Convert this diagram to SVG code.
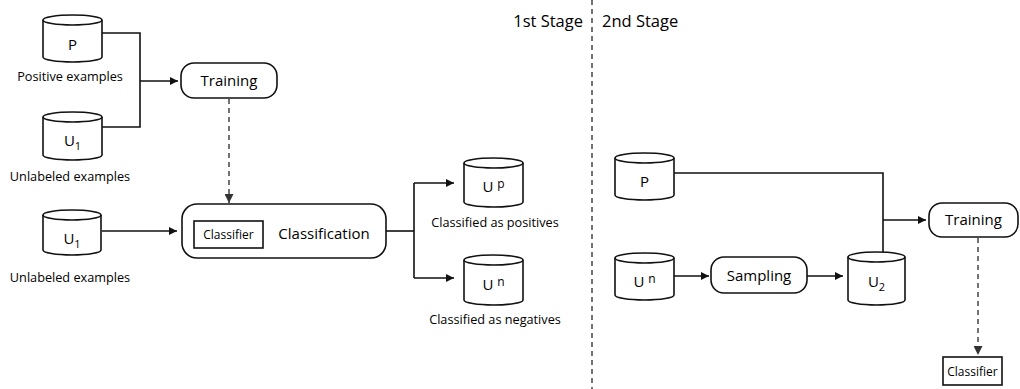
<svg xmlns="http://www.w3.org/2000/svg" width="1020" height="389" viewBox="0 0 1020 389">
<style>
.cyl{fill:#fff;stroke:#111;stroke-width:1.6}
.box{fill:#fff;stroke:#111;stroke-width:1.6}
.ln{fill:none;stroke:#111;stroke-width:1.6}
.dash{fill:none;stroke:#444;stroke-width:1.5;stroke-dasharray:5 4}
text{font-family:"Open Sans","Noto Sans",sans-serif;fill:#000}
.lbl{font-size:12.7px;text-anchor:middle}
.cl{font-size:15px;text-anchor:middle}
.nm{font-size:15px;text-anchor:middle}
.sm{font-size:12px;text-anchor:middle}
.st{font-size:16.5px}
</style>
<defs>
<marker id="ah" viewBox="0 0 10 10" refX="10" refY="5" markerWidth="10" markerHeight="8" markerUnits="userSpaceOnUse" orient="auto"><path d="M0,0 L10,5 L0,10 z" fill="#111"/></marker>
<marker id="ahg" viewBox="0 0 10 10" refX="10" refY="5" markerWidth="9" markerHeight="9" markerUnits="userSpaceOnUse" orient="auto"><path d="M0,0 L10,5 L0,10 z" fill="#333"/></marker>
</defs>

<g id="connectors">
<path class="ln" d="M102,33 H140 V127 H102"/>
<path class="ln" d="M140,81 H178" marker-end="url(#ah)"/>
<path class="dash" d="M229,99 V203" marker-end="url(#ahg)"/>
<path class="ln" d="M102,231 H177" marker-end="url(#ah)"/>
<path class="ln" d="M386,231 H414"/>
<path class="ln" d="M414,183 V278"/>
<path class="ln" d="M414,183 H454" marker-end="url(#ah)"/>
<path class="ln" d="M414,278 H454" marker-end="url(#ah)"/>
<path class="ln" d="M674,173 H883 V252"/>
<path class="ln" d="M883,220 H926" marker-end="url(#ah)"/>
<path class="ln" d="M674,276 H709" marker-end="url(#ah)"/>
<path class="ln" d="M807,276 H843" marker-end="url(#ah)"/>
<path class="dash" d="M978,238 V355" marker-end="url(#ahg)"/>
</g>

<g id="divider">
<line x1="592" y1="0" x2="592" y2="389" stroke="#444" stroke-width="1.5" stroke-dasharray="5 4"/>
<text class="st" x="583" y="27" text-anchor="end">1st Stage</text>
<text class="st" x="602" y="27">2nd Stage</text>
</g>

<g id="P1">
<path class="cyl" d="M43,20 V57 A29.5,5 0 0 0 102,57 V20"/>
<ellipse class="cyl" cx="72.5" cy="20" rx="29.5" ry="5"/>
<text class="nm" x="72.5" y="50" font-size="14">P</text>
<text class="lbl" x="70" y="81">Positive examples</text>
</g>

<g id="U1a">
<path class="cyl" d="M43,117 V155 A29.5,5 0 0 0 102,155 V117"/>
<ellipse class="cyl" cx="72.5" cy="117" rx="29.5" ry="5"/>
<text class="nm" x="72.5" y="146" font-size="15">U<tspan font-size="11" dy="4">1</tspan></text>
<text class="lbl" x="70" y="181">Unlabeled examples</text>
</g>

<g id="training1">
<rect class="box" x="181" y="63" width="96" height="35" rx="13"/>
<text class="cl" x="229" y="86">Training</text>
</g>

<g id="U1b">
<path class="cyl" d="M43,215 V250 A29,5 0 0 0 101,250 V215"/>
<ellipse class="cyl" cx="72" cy="215" rx="29" ry="5"/>
<text class="nm" x="72" y="244" font-size="15">U<tspan font-size="11" dy="4">1</tspan></text>
<text class="lbl" x="70" y="282">Unlabeled examples</text>
</g>

<g id="classification">
<rect class="box" x="182" y="204" width="204" height="54" rx="15"/>
<rect class="box" x="194" y="221" width="69" height="27"/>
<text class="sm" x="228.5" y="239">Classifier</text>
<text class="cl" x="324" y="239">Classification</text>
</g>

<g id="Up">
<path class="cyl" d="M464,163 V202 A29.5,5 0 0 0 523,202 V163"/>
<ellipse class="cyl" cx="493.5" cy="163" rx="29.5" ry="5"/>
<text class="nm" x="493.5" y="192" font-size="15">U <tspan font-size="12" dy="-4">p</tspan></text>
<text class="lbl" x="495" y="227">Classified as positives</text>
</g>

<g id="Un1">
<path class="cyl" d="M464,260 V300 A29.5,5 0 0 0 523,300 V260"/>
<ellipse class="cyl" cx="493.5" cy="260" rx="29.5" ry="5"/>
<text class="nm" x="493.5" y="290" font-size="15">U <tspan font-size="12" dy="-4">n</tspan></text>
<text class="lbl" x="495" y="324">Classified as negatives</text>
</g>

<g id="P2">
<path class="cyl" d="M615,158 V195 A29.5,5 0 0 0 674,195 V158"/>
<ellipse class="cyl" cx="644.5" cy="158" rx="29.5" ry="5"/>
<text class="nm" x="644.5" y="187" font-size="14">P</text>
</g>

<g id="Un2">
<path class="cyl" d="M615,258 V295 A29.5,5 0 0 0 674,295 V258"/>
<ellipse class="cyl" cx="644.5" cy="258" rx="29.5" ry="5"/>
<text class="nm" x="644.5" y="287" font-size="15">U <tspan font-size="12" dy="-4">n</tspan></text>
</g>

<g id="sampling">
<rect class="box" x="711" y="257" width="96" height="36" rx="13"/>
<text class="cl" x="759" y="281">Sampling</text>
</g>

<g id="U2">
<path class="cyl" d="M848,257 V300 A28.5,5 0 0 0 905,300 V257"/>
<ellipse class="cyl" cx="876.5" cy="257" rx="28.5" ry="5"/>
<text class="nm" x="876.5" y="287" font-size="15">U<tspan font-size="11" dy="4">2</tspan></text>
</g>

<g id="training2">
<rect class="box" x="929" y="203" width="89" height="34" rx="13"/>
<text class="cl" x="973.5" y="225">Training</text>
</g>

<g id="classifier2">
<rect class="box" x="943" y="357" width="59" height="28"/>
<text class="sm" x="972.5" y="376" font-size="11.5">Classifier</text>
</g>
</svg>
